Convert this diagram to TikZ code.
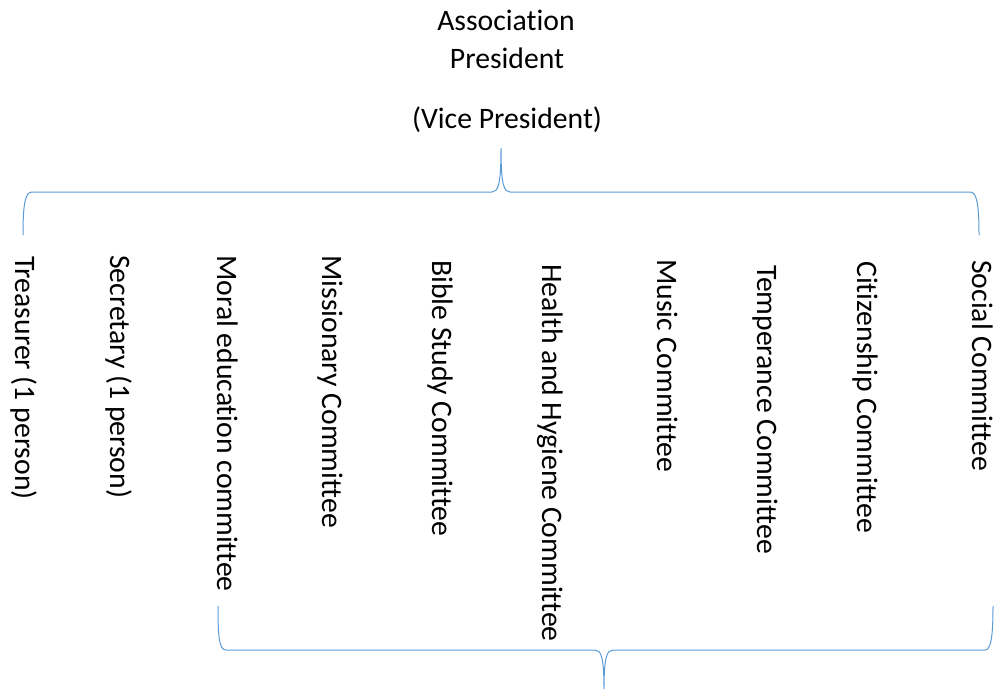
\documentclass[tikz,border=0pt]{standalone}
\usepackage{fontspec}
\setmainfont{Carlito}[RawFeature={-liga}]
\definecolor{bracecol}{HTML}{5B9BD5}
\tikzset{
  lbl/.style={inner sep=0pt, font=\fontsize{29.7}{36}\selectfont},
  vlbl/.style={lbl, rotate=-90, anchor=base west},
  brace/.style={draw=bracecol, line width=1pt}
}
\begin{document}
\begin{tikzpicture}[x=1pt,y=-1pt]
\useasboundingbox (0,0) rectangle (998,689);
% title
\node[lbl, anchor=base] (assoc) at (506,30) {Association};
\node[lbl, anchor=base] (pres) at (507,68) {President};
\node[lbl, anchor=base] (vice) at (507,128) {(Vice President)};
% columns
\node[vlbl] (treas) at (15,256) {Treasurer (1 person)};
\node[vlbl] (secr) at (110,255) {Secretary (1 person)};
\node[vlbl] (moral) at (217,255) {Moral education committee};
\node[vlbl] (miss) at (322,255) {Missionary Committee};
\node[vlbl] (bible) at (432,260) {Bible Study Committee};
\node[vlbl] (health) at (542,264) {Health and Hygiene Committee};
\node[vlbl] (music) at (657,259) {Music Committee};
\node[vlbl] (temp) at (757,265) {Temperance Committee};
\node[vlbl] (citiz) at (857,261) {Citizenship Committee};
\node[vlbl] (social) at (972,260) {Social Committee};
% top brace
\coordinate (tl) at (23,235);
\coordinate (ttip) at (501,148);
\coordinate (tr) at (979,235);
\draw[brace] (tl) .. controls (23,205) and (25,192) .. (32,192) -- (492,192)
  .. controls (498,192) and (501,185) .. (ttip)
  .. controls (501,185) and (504,192) .. (510,192) -- (970,192)
  .. controls (977,192) and (979,205) .. (tr);
% bottom brace
\coordinate (bl) at (218,606);
\coordinate (btip) at (604,689);
\coordinate (br) at (993,606);
\draw[brace] (bl) .. controls (218,636) and (219,650) .. (226,650) -- (595,650)
  .. controls (601,650) and (604,657) .. (btip)
  .. controls (604,657) and (607,650) .. (613,650) -- (985,650)
  .. controls (991,650) and (993,636) .. (br);
\end{tikzpicture}
\end{document}
